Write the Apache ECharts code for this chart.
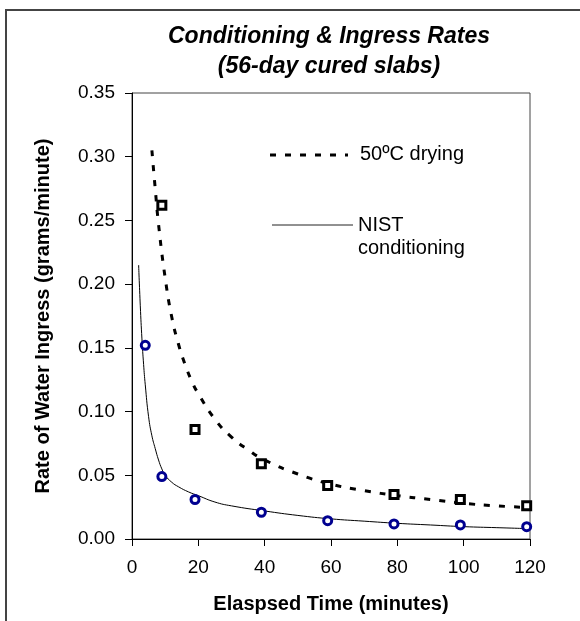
<!DOCTYPE html>
<html>
<head>
<meta charset="utf-8">
<script src="https://cdn.jsdelivr.net/npm/echarts@6/dist/echarts.min.js"></script>
<style>
  html, body { margin: 0; padding: 0; background: #fff; }
  #chart { width: 580px; height: 621px; }
</style>
</head>
<body>
<div id="chart"></div>
<script>
// measured points (minutes, g/min)
var dryTimes = [9, 19, 39, 59, 79, 99, 119];
var dryRates = [0.262, 0.086, 0.059, 0.042, 0.035, 0.031, 0.026];
var nistTimes = [4, 9, 19, 39, 59, 79, 99, 119];
var nistRates = [0.152, 0.049, 0.031, 0.021, 0.0144, 0.0118, 0.011, 0.0097];

// trend curves
var dryFitX = [6, 7, 8, 10, 12, 14, 16, 18, 20, 25, 30, 35, 40, 50, 60, 70, 80, 90, 100, 110, 117];
var dryFitY = [0.305, 0.275, 0.247, 0.205, 0.174, 0.153, 0.137, 0.124, 0.114, 0.094, 0.080, 0.070, 0.062, 0.051, 0.043, 0.038, 0.034, 0.031, 0.028, 0.026, 0.025];
var nistFitX = [2, 2.5, 3, 3.5, 4, 5, 6, 7, 8, 9, 10, 12, 14, 17, 20, 25, 30, 40, 50, 60, 70, 80, 90, 100, 110, 120];
var nistFitY = [0.215, 0.183, 0.157, 0.137, 0.121, 0.096, 0.081, 0.071, 0.062, 0.055, 0.050, 0.0445, 0.041, 0.037, 0.034, 0.029, 0.026, 0.022, 0.0185, 0.0158, 0.014, 0.0123, 0.011, 0.0097, 0.0089, 0.0081];

var FONT = '"Liberation Sans", Arial, sans-serif';

function pairs(xs, ys) {
  return xs.map(function (x, i) { return [x, ys[i]]; });
}

var myChart = echarts.init(document.getElementById('chart'), null, { renderer: 'canvas' });

var option = {
  animation: false,
  backgroundColor: '#fff',
  title: {
    text: 'Conditioning & Ingress Rates\n(56-day cured slabs)',
    left: 324,
    top: 17,
    textAlign: 'center',
    textStyle: {
      fontFamily: FONT,
      fontSize: 23,
      fontWeight: 'bold',
      fontStyle: 'italic',
      lineHeight: 30,
      color: '#000'
    }
  },
  grid: {
    left: 132, right: 50, top: 93, bottom: 82,
    show: true,
    borderColor: '#444',
    borderWidth: 1
  },
  xAxis: {
    type: 'value',
    min: 0, max: 120, interval: 20,
    name: 'Elaspsed Time (minutes)',
    nameLocation: 'middle',
    nameGap: 55,
    nameTextStyle: { fontFamily: FONT, fontSize: 20, fontWeight: 'bold', color: '#000' },
    axisLine: { lineStyle: { color: '#000', width: 1 } },
    axisTick: { length: 7, lineStyle: { color: '#000' } },
    axisLabel: { fontFamily: FONT, fontSize: 19, color: '#000', margin: 19 },
    splitLine: { show: false }
  },
  yAxis: {
    type: 'value',
    min: 0, max: 0.35, interval: 0.05,
    name: 'Rate of Water Ingress (grams/minute)',
    nameLocation: 'middle',
    nameGap: 79,
    nameTextStyle: { fontFamily: FONT, fontSize: 20, fontWeight: 'bold', color: '#000' },
    axisLine: { show: true, lineStyle: { color: '#000', width: 1 } },
    axisTick: { show: true, length: 7, lineStyle: { color: '#000' } },
    axisLabel: {
      fontFamily: FONT, fontSize: 19, color: '#000', margin: 17,
      formatter: function (v) { return v.toFixed(2); }
    },
    splitLine: { show: false }
  },
  graphic: [
    {
      type: 'rect', silent: true, z: 100,
      shape: { x: 6, y: 10, width: 700, height: 800 },
      style: { fill: 'none', stroke: '#444', lineWidth: 2 }
    },
    {
      type: 'line', z: 100,
      shape: { x1: 270, y1: 155, x2: 348, y2: 155 },
      style: { stroke: '#000', lineWidth: 3, lineDash: [6, 9] }
    },
    {
      type: 'text', z: 100, left: 360, top: 144,
      style: { text: '50ºC drying', font: '20px ' + FONT, fill: '#000' }
    },
    {
      type: 'line', z: 100,
      shape: { x1: 272, y1: 225, x2: 353, y2: 225 },
      style: { stroke: '#222', lineWidth: 1 }
    },
    {
      type: 'text', z: 100, left: 358, top: 214,
      style: { text: 'NIST\nconditioning', font: '20px ' + FONT, fill: '#000', lineHeight: 23 }
    }
  ],
  series: [
    {
      name: '50ºC drying fit',
      type: 'line',
      data: pairs(dryFitX, dryFitY),
      showSymbol: false,
      smooth: true,
      lineStyle: { color: '#000', width: 3, type: [6, 9] },
      z: 2
    },
    {
      name: 'NIST conditioning fit',
      type: 'line',
      data: pairs(nistFitX, nistFitY),
      showSymbol: false,
      smooth: true,
      lineStyle: { color: '#000', width: 1 },
      z: 2
    },
    {
      name: '50ºC drying',
      type: 'scatter',
      data: pairs(dryTimes, dryRates),
      symbol: 'rect',
      symbolSize: 8,
      itemStyle: { color: '#fff', borderColor: '#000', borderWidth: 3, opacity: 1 },
      z: 3
    },
    {
      name: 'NIST conditioning',
      type: 'scatter',
      data: pairs(nistTimes, nistRates),
      symbol: 'circle',
      symbolSize: 8,
      itemStyle: { color: '#fff', borderColor: '#000090', borderWidth: 3, opacity: 1 },
      z: 3
    }
  ]
};

myChart.setOption(option);
window.addEventListener('resize', myChart.resize);
</script>
</body>
</html>
